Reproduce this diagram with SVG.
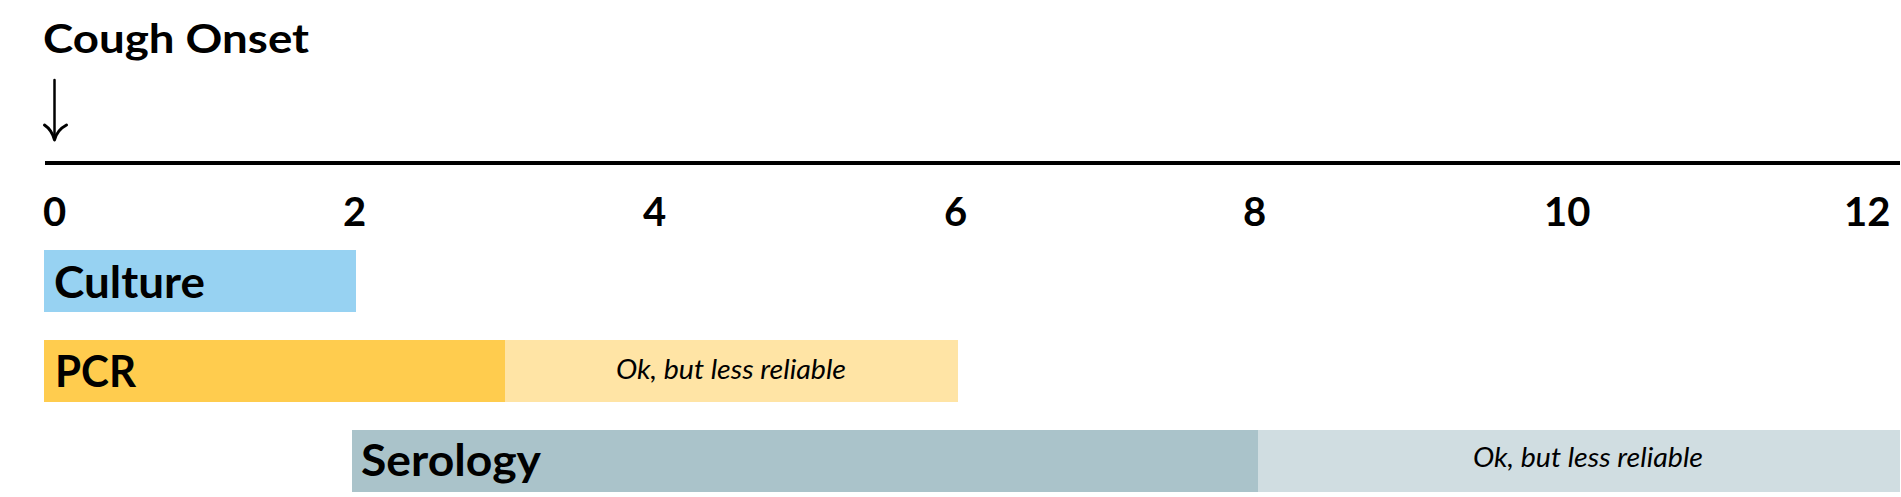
<svg xmlns="http://www.w3.org/2000/svg" width="1901" height="497" viewBox="0 0 1901 497">
<style>
.lbl{font-family:Lato,"Open Sans","DejaVu Sans",sans-serif;font-weight:bold;fill:#000}
.tick{font-family:Lato,"Open Sans","DejaVu Sans",sans-serif;font-weight:bold;font-size:40px;fill:#000}
.bar{font-family:Lato,"Open Sans","DejaVu Sans",sans-serif;font-weight:bold;font-size:43px;fill:#000}
.note{font-family:Lato,"Open Sans","DejaVu Sans",sans-serif;font-style:italic;font-size:27px;fill:#000;text-anchor:middle}
</style>
<rect width="1901" height="497" fill="#fff"/>
<g id="title">
<text class="lbl" x="43" y="53" font-size="40" textLength="266" lengthAdjust="spacingAndGlyphs">Cough Onset</text>
</g>
<g id="connectors" fill="none" stroke="#000" stroke-linecap="round" stroke-linejoin="round">
<line x1="54.5" y1="80" x2="54.5" y2="139" stroke-width="2.5"/>
<path d="M44.5,125 Q52,130 54.5,140 Q57,130 66.5,125" stroke-width="3"/>
</g>
<g id="axis">
<line x1="45" y1="163" x2="1900" y2="163" stroke="#000" stroke-width="4"/>
<text class="tick" x="43" y="226">0</text>
<text class="tick" x="343" y="226">2</text>
<text class="tick" x="643" y="226">4</text>
<text class="tick" x="944" y="226">6</text>
<text class="tick" x="1243" y="226">8</text>
<text class="tick" x="1544" y="226">10</text>
<text class="tick" x="1844" y="226">12</text>
</g>
<g id="culture">
<rect x="44" y="250" width="312" height="62" fill="#97D2F2"/>
<text class="bar" x="54" y="298" textLength="151" lengthAdjust="spacingAndGlyphs">Culture</text>
</g>
<g id="pcr">
<rect x="44" y="340" width="461" height="62" fill="#FFCC4E"/>
<rect x="505" y="340" width="453" height="62" fill="#FFE4A5"/>
<text class="bar" x="55" y="387" textLength="81" lengthAdjust="spacingAndGlyphs">PCR</text>
<text class="note" x="731" y="379" textLength="230" lengthAdjust="spacingAndGlyphs">Ok, but less reliable</text>
</g>
<g id="serology">
<rect x="352" y="430" width="906" height="62" fill="#AAC3CA"/>
<rect x="1258" y="430" width="642" height="62" fill="#D0DDE1"/>
<text class="bar" x="361" y="476" textLength="180" lengthAdjust="spacingAndGlyphs">Serology</text>
<text class="note" x="1588" y="467" textLength="230" lengthAdjust="spacingAndGlyphs">Ok, but less reliable</text>
</g>
</svg>
